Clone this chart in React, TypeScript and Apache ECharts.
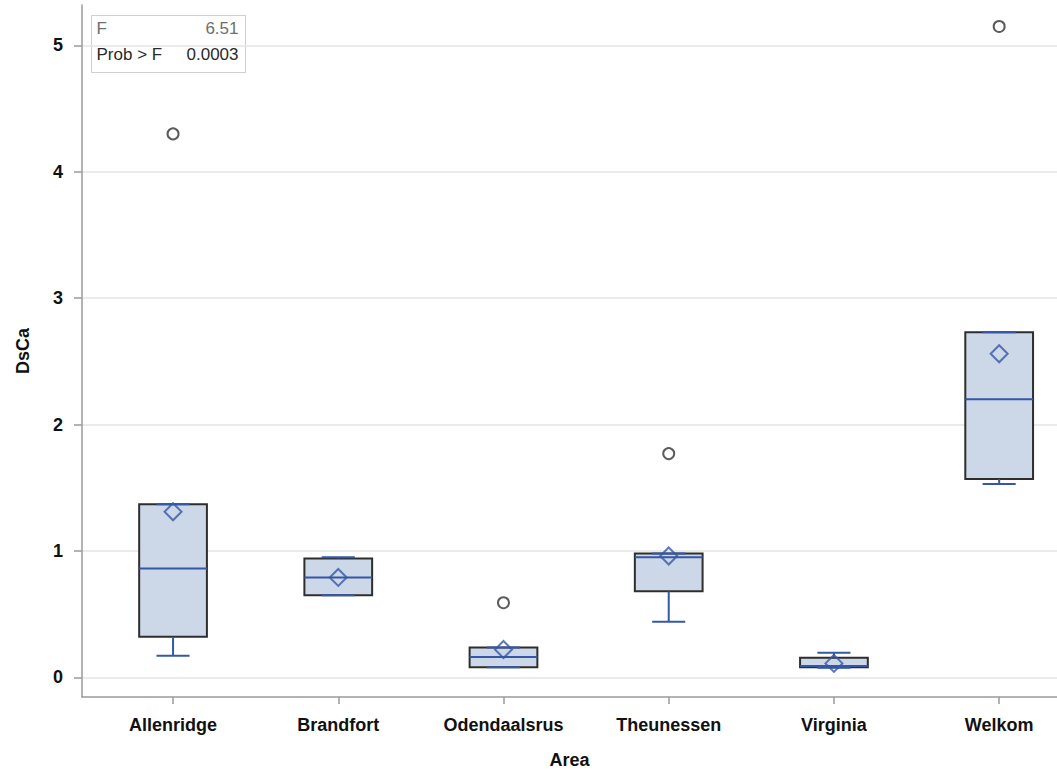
import { useEffect, useRef } from "react";
import * as echarts from "echarts";

// Sampling areas along the category axis
const areas = ["Allenridge", "Brandfort", "Odendaalsrus", "Theunessen", "Virginia", "Welkom"];

// Per area: [lower whisker, Q1, median, Q3, upper whisker]
const boxStats: number[][] = [
  [0.17, 0.32, 0.86, 1.37, 1.37],
  [0.65, 0.65, 0.79, 0.94, 0.95],
  [0.08, 0.08, 0.16, 0.235, 0.235],
  [0.44, 0.68, 0.95, 0.98, 0.98],
  [0.075, 0.08, 0.09, 0.155, 0.195],
  [1.53, 1.57, 2.2, 2.73, 2.73],
];

// Group means (diamond markers)
const means = [1.31, 0.79, 0.22, 0.96, 0.11, 2.56];

// Outliers as [area index, value]
const outliers: number[][] = [
  [0, 4.3],
  [2, 0.59],
  [3, 1.77],
  [5, 5.15],
];

const yTicks = [0, 1, 2, 3, 4, 5];
const areaTicks = [0, 1, 2, 3, 4, 5];

// ANOVA summary
const fLabel = "F";
const fValue = "6.51";
const pLabel = "Prob > F";
const pValue = "0.0003";

const FONT = "'Liberation Sans', Arial, Helvetica, sans-serif";
const BLUE = "#3457a8";
const FILL = "#ccd7e7";
const EDGE = "#2e2e2e";
const AXIS = "#9a9a9a";

export default function App() {
  const ref = useRef<HTMLDivElement>(null);

  useEffect(() => {
    if (!ref.current) return;
    const chart = echarts.init(ref.current, undefined, { renderer: "svg" });

    const boxData = boxStats.map((s, i) => [i, ...s]);

    const option: any = {
      animation: false,
      backgroundColor: "#ffffff",
      grid: { left: 82, right: 0, top: 5, bottom: 76, containLabel: false, outerBoundsMode: "none" },
      xAxis: {
        type: "value",
        min: -0.551,
        max: 5.35,
        name: "Area",
        nameLocation: "middle",
        nameGap: 54,
        nameTextStyle: { fontFamily: FONT, fontSize: 18, fontWeight: "bold", color: "#111" },
        axisLine: { show: true, onZero: false, lineStyle: { color: AXIS, width: 1.5 } },
        axisTick: { show: true, length: 7, customValues: areaTicks, lineStyle: { color: AXIS, width: 1.5 } },
        axisLabel: {
          customValues: areaTicks,
          margin: 19,
          fontFamily: FONT,
          fontSize: 18,
          fontWeight: "bold",
          color: "#111",
          formatter: (v: number) => areas[Math.round(v)] ?? "",
        },
        splitLine: { show: false },
      },
      yAxis: {
        type: "value",
        min: -0.156,
        max: 5.32,
        name: "DsCa",
        nameLocation: "middle",
        nameGap: 50,
        nameTextStyle: { fontFamily: FONT, fontSize: 18, fontWeight: "bold", color: "#111" },
        axisLine: { show: true, onZero: false, lineStyle: { color: AXIS, width: 1.5 } },
        axisTick: { show: true, length: 8, customValues: yTicks, lineStyle: { color: AXIS, width: 1.5 } },
        axisLabel: {
          customValues: yTicks,
          margin: 19,
          fontFamily: FONT,
          fontSize: 18,
          fontWeight: "bold",
          color: "#111",
        },
        splitLine: { show: true, lineStyle: { color: "#e4e4e4", width: 1.5 } },
      },
      series: [
        {
          type: "custom",
          name: "box",
          data: boxData,
          encode: { x: 0, y: [1, 2, 3, 4, 5] },
          z: 3,
          renderItem: (params: any, api: any) => {
            const idx = api.value(0);
            const [x, yLo] = api.coord([idx, api.value(1)]);
            const yQ1 = api.coord([idx, api.value(2)])[1];
            const yMed = api.coord([idx, api.value(3)])[1];
            const yQ3 = api.coord([idx, api.value(4)])[1];
            const yHi = api.coord([idx, api.value(5)])[1];
            const step = api.size([1, 0])[0];
            const half = step * 0.205;
            const cap = step * 0.1;
            const blue = { stroke: BLUE, lineWidth: 2 };
            return {
              type: "group",
              children: [
                {
                  type: "rect",
                  shape: { x: x - half, y: yQ3, width: half * 2, height: yQ1 - yQ3 },
                  style: { fill: FILL, stroke: EDGE, lineWidth: 2 },
                },
                { type: "line", shape: { x1: x, y1: yQ1, x2: x, y2: yLo }, style: blue },
                { type: "line", shape: { x1: x, y1: yQ3, x2: x, y2: yHi }, style: blue },
                { type: "line", shape: { x1: x - cap, y1: yLo, x2: x + cap, y2: yLo }, style: blue },
                { type: "line", shape: { x1: x - cap, y1: yHi, x2: x + cap, y2: yHi }, style: blue },
                { type: "line", shape: { x1: x - half, y1: yMed, x2: x + half, y2: yMed }, style: blue },
              ],
            };
          },
        },
        {
          type: "scatter",
          name: "mean",
          data: means.map((m, i) => [i, m]),
          symbol: "diamond",
          symbolSize: [17, 17],
          z: 4,
          itemStyle: { color: "rgba(0,0,0,0)", borderColor: BLUE, borderWidth: 2 },
        },
        {
          type: "scatter",
          name: "outlier",
          data: outliers,
          symbol: "circle",
          symbolSize: 11,
          z: 4,
          itemStyle: { color: "#ffffff", borderColor: "#333333", borderWidth: 2 },
        },
      ],
      graphic: [
        {
          type: "group",
          left: 91,
          top: 15,
          z: 100,
          children: [
            {
              type: "rect",
              shape: { x: 0, y: 0, width: 154, height: 57 },
              style: { fill: "#ffffff", stroke: "#cfcfcf", lineWidth: 1 },
            },
            {
              type: "text",
              x: 5,
              y: 13,
              style: { text: fLabel, font: `17px ${FONT}`, fill: "#6e6e6e", textVerticalAlign: "middle", textAlign: "left" },
            },
            {
              type: "text",
              x: 147,
              y: 13,
              style: { text: fValue, font: `17px ${FONT}`, fill: "#6e6e6e", textVerticalAlign: "middle", textAlign: "right" },
            },
            {
              type: "text",
              x: 5,
              y: 39,
              style: { text: pLabel, font: `17px ${FONT}`, fill: "#2a2a2a", textVerticalAlign: "middle", textAlign: "left" },
            },
            {
              type: "text",
              x: 147,
              y: 39,
              style: { text: pValue, font: `17px ${FONT}`, fill: "#2a2a2a", textVerticalAlign: "middle", textAlign: "right" },
            },
          ],
        },
      ],
    };

    chart.setOption(option);
    return () => chart.dispose();
  }, []);

  return (
    <div
      ref={ref}
      style={{ position: "fixed", left: 0, top: 0, width: 1057, height: 773, background: "#fff" }}
    />
  );
}
